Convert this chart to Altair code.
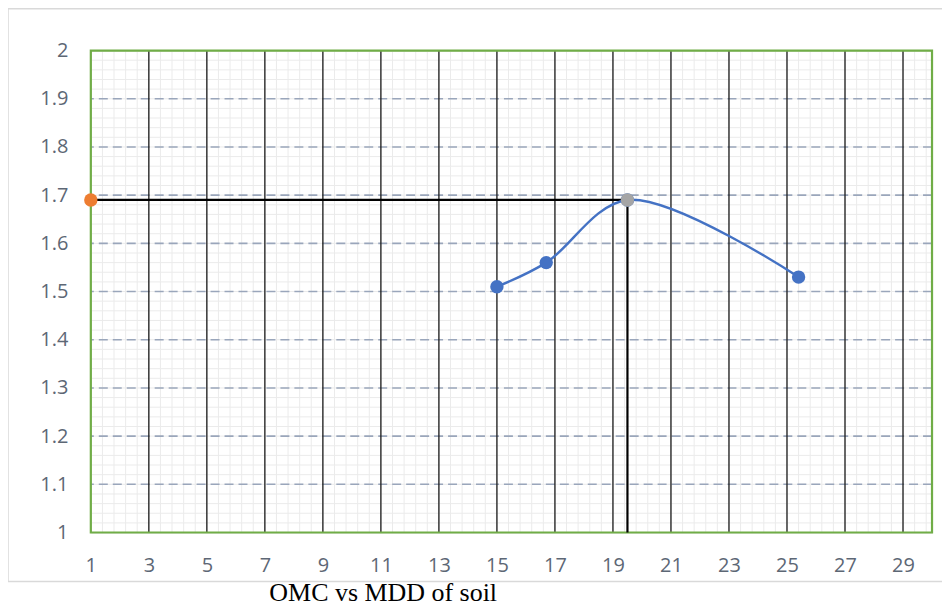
import altair as alt
import pandas as pd
import numpy as np

# Data
omc = [15.0, 16.7, 19.5, 25.4]
mdd = [1.51, 1.56, 1.69, 1.53]
peak_omc = [19.5]
peak_mdd = [1.69]
axis_pt_x = [1.0]
axis_pt_y = [1.69]
x_ticks = list(range(1, 30, 2))
y_ticks = [1.0, 1.1, 1.2, 1.3, 1.4, 1.5, 1.6, 1.7, 1.8, 1.9, 2.0]
title_text = "OMC vs MDD of soil"

XD = [1, 30]
YD = [1, 2]
W, H = 843, 483

xs = alt.Scale(domain=XD, nice=False, zero=False)
ys = alt.Scale(domain=YD, nice=False, zero=False)

minor_x = pd.DataFrame({"x": np.round(np.arange(1.4, 30.0, 0.4), 2)})
minor_y = pd.DataFrame({"y": np.round(np.arange(1.02, 2.0, 0.02), 3)})
major_x = pd.DataFrame({"x": x_ticks[1:]})
major_y = pd.DataFrame({"y": y_ticks[1:-1]})

axis_font = "Open Sans"
lab_col = "#5d6775"
lab_size = 20

base_enc_x = alt.X("x:Q", scale=xs,
                   axis=alt.Axis(values=x_ticks, title=None, grid=False, ticks=False, domain=False,
                                 labelFontSize=lab_size, labelColor=lab_col, labelFont=axis_font,
                                 labelPadding=23, labelFlush=False))

minor_v = alt.Chart(minor_x).mark_rule(color="#ebebeb", strokeWidth=1).encode(
    x=base_enc_x
)
minor_h = alt.Chart(minor_y).mark_rule(color="#ebebeb", strokeWidth=1).encode(
    y=alt.Y("y:Q", scale=ys,
            axis=alt.Axis(values=y_ticks, title=None, grid=False, ticks=False, domain=False,
                          labelFontSize=lab_size, labelColor=lab_col, labelFont=axis_font,
                          labelPadding=23, labelFlush=False, format="~g"))
)
major_v = alt.Chart(major_x).mark_rule(color="#1a1a1a", strokeWidth=1.3).encode(
    x=alt.X("x:Q", scale=xs)
)
major_h = alt.Chart(major_y).mark_rule(color="#9aa6bb", strokeWidth=1.6, strokeDash=[9, 5]).encode(
    y=alt.Y("y:Q", scale=ys)
)

lines_df = pd.DataFrame({
    "x": [axis_pt_x[0], peak_omc[0]],
    "x2": [peak_omc[0], peak_omc[0]],
    "y": [axis_pt_y[0], peak_mdd[0]],
    "y2": [axis_pt_y[0], YD[0]],
})
guide = alt.Chart(lines_df).mark_rule(color="#000000", strokeWidth=2.2).encode(
    x=alt.X("x:Q", scale=xs), x2="x2:Q",
    y=alt.Y("y:Q", scale=ys), y2="y2:Q"
)

frame = alt.Chart(pd.DataFrame({"a": [0]})).mark_rect(
    fill=None, stroke="#70ad47", strokeWidth=2.2
).encode(x=alt.value(0), x2=alt.value(W), y=alt.value(0), y2=alt.value(H))

outer = alt.Chart(pd.DataFrame({"a": [0]})).mark_rect(
    fill=None, stroke="#d9d9d9", strokeWidth=1.5, clip=False
).encode(x=alt.value(-83), x2=alt.value(W + 20), y=alt.value(-42), y2=alt.value(H + 49))

series_df = pd.DataFrame({"omc": omc, "mdd": mdd})
curve = alt.Chart(series_df).mark_line(
    color="#4472c4", strokeWidth=2.4, interpolate="catmull-rom"
).encode(x=alt.X("omc:Q", scale=xs), y=alt.Y("mdd:Q", scale=ys))
pts = alt.Chart(series_df).mark_circle(color="#4472c4", size=180, opacity=1).encode(
    x=alt.X("omc:Q", scale=xs), y=alt.Y("mdd:Q", scale=ys))

peak = alt.Chart(pd.DataFrame({"x": peak_omc, "y": peak_mdd})).mark_circle(
    color="#a5a5a5", size=180, opacity=1
).encode(x=alt.X("x:Q", scale=xs), y=alt.Y("y:Q", scale=ys))

orange = alt.Chart(pd.DataFrame({"x": axis_pt_x, "y": axis_pt_y})).mark_circle(
    color="#ed7d31", size=180, opacity=1, clip=False
).encode(x=alt.X("x:Q", scale=xs), y=alt.Y("y:Q", scale=ys))

title = alt.Chart(pd.DataFrame({"t": [title_text]})).mark_text(
    font="Liberation Serif", fontSize=26, color="#000000", align="center", baseline="alphabetic"
).encode(text="t:N", x=alt.value(293), y=alt.value(H + 69))

chart = alt.layer(
    outer, minor_v, minor_h, major_h, major_v, frame, guide, curve, pts, peak, orange, title
).properties(
    width=W, height=H,
    autosize=alt.AutoSizeParams(type="none"),
    padding={"left": 83, "top": 42, "right": 10, "bottom": 76},
).configure_view(stroke=None).configure(background="white")

chart.save("out.html", embed_options={"renderer": "svg", "actions": False})
